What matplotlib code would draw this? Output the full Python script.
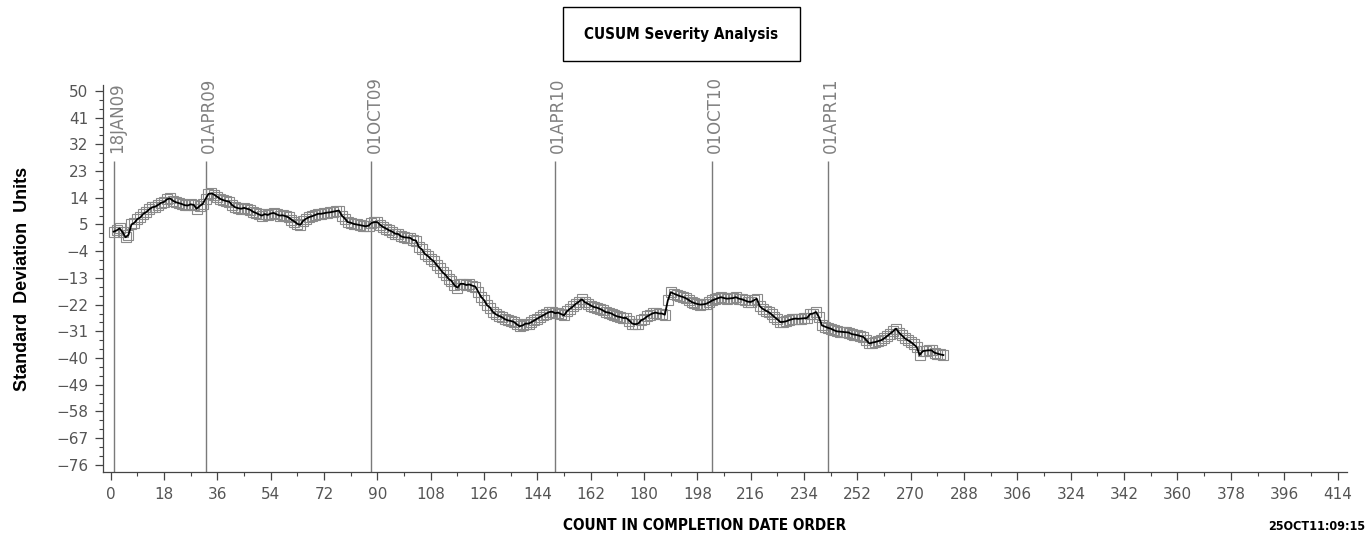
import matplotlib
matplotlib.use("Agg")
import matplotlib.pyplot as plt
from matplotlib.patches import Rectangle
from matplotlib.ticker import MultipleLocator

# CUSUM of severity, one value per completed item (count 1..281)
cusum = [
    2.6, 3.0, 3.7, 2.4, 0.7, 1.5, 5.0, 5.6, 6.8, 7.4,
    8.6, 9.2, 10.1, 10.8, 11.0, 11.6, 12.3, 12.6, 13.5, 13.8,
    13.0, 12.5, 12.2, 11.9, 11.5, 11.4, 11.8, 11.6, 10.3, 11.2,
    11.9, 13.6, 15.3, 15.5, 15.0, 14.3, 13.6, 13.2, 12.9, 12.7,
    11.5, 10.8, 10.5, 10.3, 10.6, 10.3, 10.0, 9.3, 8.9, 8.4,
    8.0, 8.5, 8.2, 8.7, 8.9, 8.4, 8.0, 8.1, 7.8, 7.4,
    6.6, 6.0, 5.2, 4.9, 6.3, 7.0, 7.5, 7.8, 8.2, 8.6,
    8.6, 8.8, 9.0, 9.1, 9.3, 9.5, 9.7, 8.0, 7.0, 5.8,
    5.6, 5.2, 5.0, 4.8, 4.6, 4.4, 4.6, 5.5, 5.8, 5.8,
    4.8, 4.1, 3.6, 3.0, 2.6, 1.9, 1.8, 1.0, 0.7, 0.6,
    0.5, -0.2, -0.4, -2.6, -3.4, -4.9, -5.6, -6.6, -7.4, -8.6,
    -9.8, -11.1, -12.0, -13.3, -14.0, -15.5, -16.3, -15.0, -15.0, -15.4,
    -15.2, -15.6, -15.9, -17.6, -19.4, -20.5, -22.2, -23.0, -24.5, -25.3,
    -25.8, -26.2, -26.9, -27.3, -27.5, -27.8, -28.6, -29.3, -29.0, -28.4,
    -28.4, -27.9, -27.3, -26.7, -26.1, -25.6, -25.0, -24.5, -24.4, -24.9,
    -24.7, -25.2, -25.6, -24.2, -23.4, -22.6, -21.7, -21.0, -20.2, -21.2,
    -21.7, -22.3, -22.8, -23.0, -23.4, -23.9, -24.5, -24.7, -25.0, -25.6,
    -26.0, -26.2, -26.5, -26.5, -27.4, -28.4, -28.6, -28.4, -27.3, -26.8,
    -26.0, -25.4, -24.9, -24.7, -25.0, -25.0, -25.4, -20.6, -17.8, -18.3,
    -18.7, -19.1, -19.4, -19.8, -20.4, -21.1, -21.5, -21.8, -22.0, -21.9,
    -21.7, -21.2, -20.6, -20.2, -19.8, -19.5, -19.8, -20.0, -19.9, -19.8,
    -19.5, -20.0, -20.2, -20.6, -21.0, -21.1, -20.6, -20.0, -22.5, -23.4,
    -24.0, -24.5, -25.3, -26.2, -27.0, -27.9, -27.8, -27.6, -27.2, -26.9,
    -26.7, -26.8, -26.7, -26.6, -26.5, -25.2, -25.0, -24.5, -26.2, -29.0,
    -29.4, -29.8, -30.1, -30.6, -31.0, -31.1, -31.2, -31.3, -31.4, -31.9,
    -32.1, -32.3, -32.6, -32.9, -34.0, -35.1, -34.8, -34.6, -34.3, -34.0,
    -33.4, -32.6, -31.8, -31.0, -30.1, -31.4, -32.4, -33.4, -34.0, -34.6,
    -35.4, -36.3, -39.0, -37.7, -37.5, -37.4, -37.4, -38.2, -38.5, -38.8, -39.0,
]
count = list(range(1, len(cusum) + 1))

# date reference lines (count position of the first item on/after each date)
ref_dates = ["18JAN09", "01APR09", "01OCT09", "01APR10", "01OCT10", "01APR11"]
ref_counts = [1, 32, 88, 150, 203, 242]

xticks = list(range(0, 415, 18))
yticks = list(range(-76, 51, 9))

narrow = dict(family=["Liberation Sans Narrow", "DejaVu Sans"],
              fontstretch="condensed", fontweight="bold")
tick_grey = "#555555"

W, H = 1368, 539
fig = plt.figure(figsize=(W / 100, H / 100), dpi=100)
ax = fig.add_axes([103 / W, 1 - 472 / H, 1244 / W, 387 / H])

# open grey squares under a black joining line
ax.plot(count, cusum, ls="none", marker="s", ms=6.5,
        mfc="none", mec="#8a8a8a", mew=0.8, zorder=3)
ax.plot(count, cusum, color="black", lw=1.3, zorder=4)

line_top = 26.5
ax.vlines(ref_counts, -78.4, line_top, color="#7a7a7a", lw=1.0, zorder=2)
for c, lab in zip(ref_counts, ref_dates):
    ax.text(c + 1.0, line_top + 2.7, lab, rotation=90, ha="center", va="bottom",
            fontsize=12, color="#808080", family="DejaVu Sans")

ax.set_xlim(-2.6, 417.2)
ax.set_ylim(-78.4, 52.0)
ax.set_xticks(xticks)
ax.set_yticks(yticks)
ax.xaxis.set_minor_locator(MultipleLocator(9))
ax.set_yticks([v for v in range(-76, 51, 3) if v not in yticks], minor=True)

for s in ("top", "right"):
    ax.spines[s].set_visible(False)
for s in ("left", "bottom"):
    ax.spines[s].set_color("#444444")
    ax.spines[s].set_linewidth(0.9)

ax.tick_params(axis="both", which="major", length=5.5, width=0.9,
               color="#444444", labelcolor=tick_grey, labelsize=11, pad=5)
ax.tick_params(axis="both", which="minor", length=3, width=0.8, color="#444444")

ax.set_ylabel("Standard  Deviation  Units", fontsize=13, fontweight="bold",
              family=["Liberation Sans", "DejaVu Sans"], labelpad=18)

fig.text(705 / W, 1 - 526 / H, "COUNT IN COMPLETION DATE ORDER",
         ha="center", va="center", fontsize=11, **narrow)
fig.text(1365 / W, 1 - 527 / H, "25OCT11:09:15", ha="right", va="center",
         fontsize=9, **narrow)

# boxed title
fig.patches.append(Rectangle((563 / W, 1 - 61 / H), 237 / W, 54 / H,
                             transform=fig.transFigure, fill=False,
                             ec="black", lw=1.0))
fig.text(681 / W, 1 - 34 / H, "CUSUM Severity Analysis", ha="center",
         va="center", fontsize=11, **narrow)

fig.savefig("out.png", dpi=100)
